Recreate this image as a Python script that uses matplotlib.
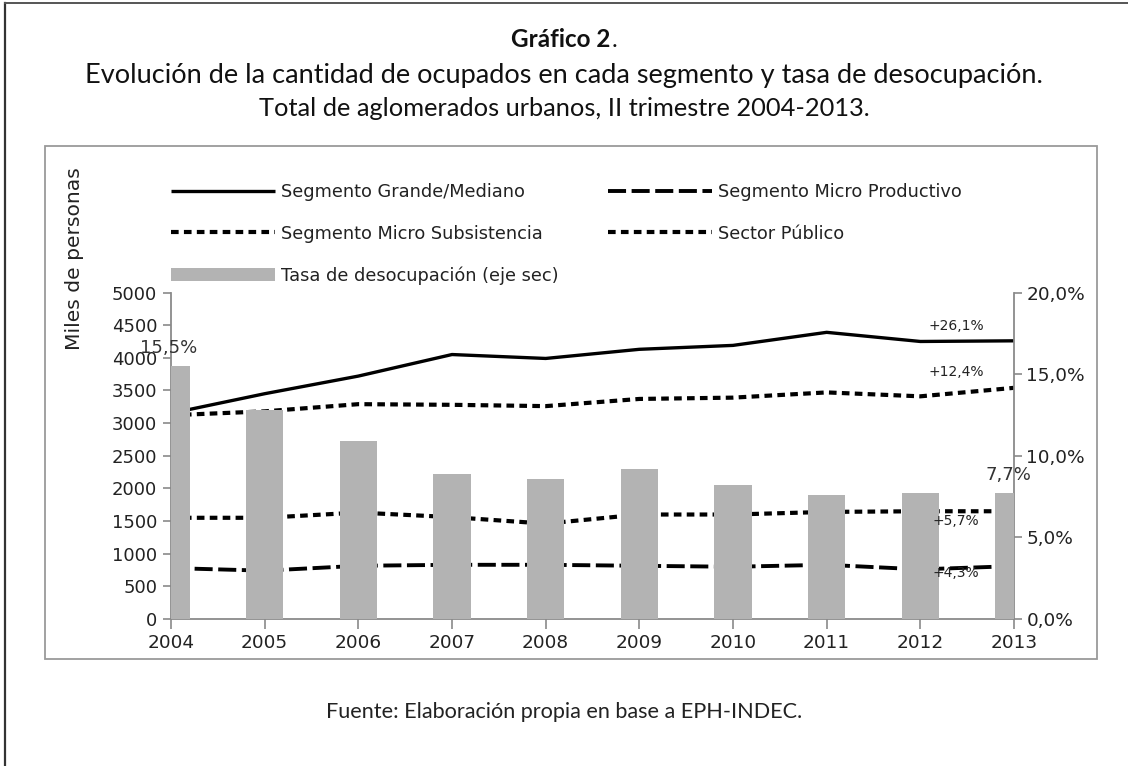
import matplotlib
matplotlib.use("Agg")
import matplotlib.pyplot as plt
from matplotlib.lines import Line2D
from matplotlib.patches import Rectangle, Patch
from matplotlib.ticker import FuncFormatter, MultipleLocator

# ---------------- data ----------------
years = [2004, 2005, 2006, 2007, 2008, 2009, 2010, 2011, 2012, 2013]
grande_mediano = [3150, 3450, 3720, 4050, 3990, 4130, 4190, 4390, 4250, 4260]
micro_productivo = [780, 740, 815, 830, 830, 815, 800, 830, 760, 810]
micro_subsistencia = [1550, 1550, 1630, 1560, 1460, 1600, 1600, 1640, 1650, 1650]
sector_publico = [3120, 3180, 3290, 3280, 3260, 3370, 3390, 3470, 3410, 3540]
tasa_desocupacion = [15.5, 12.8, 10.9, 8.9, 8.6, 9.2, 8.2, 7.6, 7.7, 7.7]

series_labels = ["Segmento Grande/Mediano", "Segmento Micro Productivo",
                 "Segmento Micro Subsistencia", "Sector Público",
                 "Tasa de desocupación (eje sec)"]
growth_labels = ["+26,1%", "+12,4%", "+5,7%", "+4,3%"]

plt.rcParams['lines.scale_dashes'] = False
W, H = 1128, 766
fig = plt.figure(figsize=(W / 100, H / 100), dpi=100)
fig.patch.set_facecolor("white")

def fx(px):
    return px / W

def fy(py):
    return 1 - py / H

# outer frame (left and top lines)
fig.add_artist(Line2D([fx(5), fx(5)], [fy(3), 0], transform=fig.transFigure,
                      color="#333333", lw=1.6))
fig.add_artist(Line2D([fx(5), 1], [fy(3), fy(3)], transform=fig.transFigure,
                      color="#555555", lw=1.4))
# inner chart box
fig.add_artist(Rectangle((fx(45), fy(659)), fx(1097) - fx(45), fy(146) - fy(659),
                         transform=fig.transFigure, fill=False,
                         edgecolor="#9a9a9a", lw=1.3))

# titles
tfont = "Lato"
renderer = fig.canvas.get_renderer()
tb = fig.text(0, fy(47), "Gráfico 2", fontsize=17.5, fontweight="bold",
              family=tfont, ha="left", va="baseline", color="#111111")
td = fig.text(0, fy(47), ".", fontsize=17.5, family=tfont, ha="left",
              va="baseline", color="#111111")
wb = tb.get_window_extent(renderer).width
wd = td.get_window_extent(renderer).width
x0 = (W - (wb + wd)) / 2
tb.set_x(fx(x0))
td.set_x(fx(x0 + wb + 1))
fig.text(0.5, fy(76), "Evolución de la cantidad de ocupados en cada segmento y tasa de desocupación.",
         fontsize=19.5, family=tfont, ha="center", va="center", color="#111111")
fig.text(0.5, fy(108), "Total de aglomerados urbanos, II trimestre 2004-2013.",
         fontsize=18.3, family=tfont, ha="center", va="center", color="#111111")
fig.text(0.5, fy(712), "Fuente: Elaboración propia en base a EPH-INDEC.",
         fontsize=15.6, family=tfont, ha="center", va="center", color="#222222")

# main axes
ax = fig.add_axes([fx(171), fy(619), fx(1014) - fx(171), fy(292.5) - fy(619)])
ax.set_facecolor("none")
ax2 = ax.twinx()

lw = 2.4
l1, = ax.plot(years, grande_mediano, color="black", lw=lw, solid_capstyle="butt")
l2, = ax.plot(years, micro_productivo, color="black", lw=lw + 0.4, dashes=(13, 4))
l3, = ax.plot(years, micro_subsistencia, color="black", lw=lw + 0.6, dashes=(5.5, 3.8))
l4, = ax.plot(years, sector_publico, color="black", lw=lw + 0.6, dashes=(5.5, 3.8))

bars = ax2.bar(years, tasa_desocupacion, width=0.4, color="#b3b3b3", zorder=3)

ax.set_xlim(2004, 2013)
ax.set_ylim(0, 5000)
ax2.set_ylim(0, 20)
ax.set_xticks(years)
ax.yaxis.set_major_locator(MultipleLocator(500))
ax2.yaxis.set_major_locator(MultipleLocator(5))
ax2.yaxis.set_major_formatter(FuncFormatter(lambda v, p: f"{v:.1f}%".replace(".", ",")))

cfont = "DejaVu Sans"
spc = "#8a8a8a"
for a in (ax, ax2):
    for s in a.spines.values():
        s.set_visible(False)
ax.spines["left"].set_visible(True)
ax.spines["bottom"].set_visible(True)
ax2.spines["right"].set_visible(True)
for s in (ax.spines["left"], ax.spines["bottom"], ax2.spines["right"]):
    s.set_color(spc)
    s.set_linewidth(1.3)
ax.tick_params(axis="x", direction="out", length=7, width=1.2, color=spc,
               labelsize=13.3, labelcolor="#222222", pad=4)
ax.tick_params(axis="y", direction="out", length=6, width=1.2, color=spc,
               labelsize=13, labelcolor="#222222", pad=4)
ax2.tick_params(axis="y", direction="out", length=6, width=1.2, color=spc,
                labelsize=13.3, labelcolor="#222222", pad=3)
for lab in ax.get_xticklabels() + ax.get_yticklabels() + ax2.get_yticklabels():
    lab.set_family(cfont)

fig.text(fx(75), fy(259), "Miles de personas", rotation=90, fontsize=14.6,
         family=cfont, ha="center", va="center", color="#222222")

# data labels on bars
ax2.text(years[0] - 0.03, tasa_desocupacion[0] + 0.55, "15,5%", fontsize=13,
         family=cfont, ha="center", va="bottom", color="#333333", zorder=5)
ax2.text(years[-1] - 0.06, tasa_desocupacion[-1] + 0.55, "7,7%", fontsize=13,
         family=cfont, ha="center", va="bottom", color="#333333", zorder=5)

# growth annotations (drawn on the secondary axes so they sit above the bars)
for lab, ser, off in zip(growth_labels,
                         [grande_mediano, sector_publico, micro_subsistencia, micro_productivo],
                         [225, 235, -150, -110]):
    ax2.text(2012.38, (ser[-1] + off) / 250.0, lab, fontsize=10, family=cfont,
             ha="center", va="center", color="#222222", zorder=6)

# legend
handles1 = [l1, l3, Patch(facecolor="#b3b3b3", edgecolor="none")]
labels1 = [series_labels[0], series_labels[2], series_labels[4]]
handles2 = [l2, l4]
labels2 = [series_labels[1], series_labels[3]]
leg_kw = dict(frameon=False, fontsize=12.8, handlelength=5.85, handletextpad=0.35,
              labelspacing=1.34, handleheight=0.75, borderaxespad=0, borderpad=0)
leg1 = fig.legend(handles1, labels1, loc="upper left",
                  bbox_to_anchor=(fx(171), fy(183)), **leg_kw)
leg2 = fig.legend(handles2, labels2, loc="upper left",
                  bbox_to_anchor=(fx(608), fy(183)), **leg_kw)
for lg in (leg1, leg2):
    for t in lg.get_texts():
        t.set_family(cfont)
        t.set_color("#222222")

fig.savefig("out.png", dpi=100, facecolor="white")
